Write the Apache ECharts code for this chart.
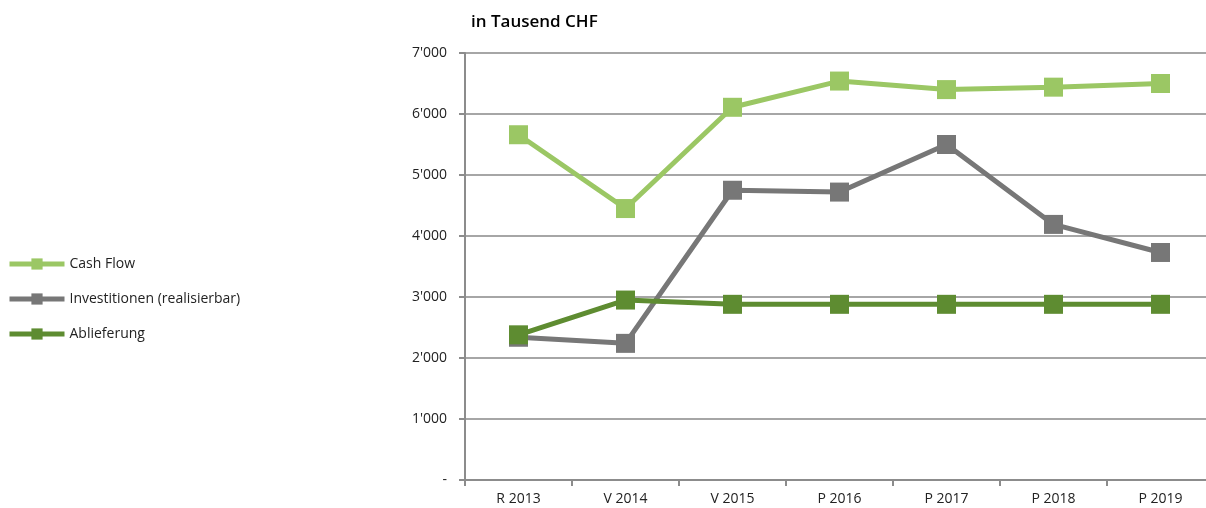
<!DOCTYPE html>
<html><head><meta charset="utf-8">
<script src="https://cdn.jsdelivr.net/npm/echarts@6/dist/echarts.min.js"></script>
<style>html,body{margin:0;padding:0;background:#fff;overflow:hidden;width:1206px;height:508px}#c{width:1214px;height:508px}</style>
</head><body><div id="c"></div>
<script>
const categories = ['R 2013','V 2014','V 2015','P 2016','P 2017','P 2018','P 2019'];
const cashFlow = [5660, 4450, 6110, 6540, 6400, 6440, 6500];
const investitionen = [2340, 2240, 4750, 4720, 5500, 4190, 3730];
const ablieferung = [2380, 2950, 2880, 2880, 2880, 2880, 2880];
const seriesNames = ['Cash Flow', 'Investitionen (realisierbar)', 'Ablieferung'];
const colors = ['#9BC764', '#777777', '#5E8C31'];
const font = '"Open Sans", "Noto Sans", sans-serif';

const chart = echarts.init(document.getElementById('c'));
function mk(name, data, color, z) {
  return {
    name, type: 'line', data, z,
    symbol: 'rect', symbolSize: 19,
    itemStyle: { color },
    lineStyle: { color, width: 5 },
    emphasis: { disabled: true },
    animation: false
  };
}
chart.setOption({
  animation: false,
  title: { text: 'in Tausend CHF', left: 466, top: 9,
    textStyle: { fontFamily: font, fontSize: 17, fontWeight: 600, color: '#000' } },
  legend: {
    orient: 'vertical', left: 2, top: 252, itemWidth: 55, itemHeight: 14, itemGap: 21,
    lineStyle: { width: 5 },
    textStyle: { fontFamily: font, fontSize: 14, color: '#222' },
    data: seriesNames
  },
  grid: { left: 465, right: 0, top: 53, bottom: 28 },
  xAxis: {
    type: 'category', data: categories, boundaryGap: true,
    axisLine: { lineStyle: { color: '#8c8c8c', width: 2 } },
    axisTick: { show: true, length: 6, lineStyle: { color: '#8c8c8c', width: 2 } },
    axisLabel: { fontFamily: font, fontSize: 14, color: '#222', margin: 12 }
  },
  yAxis: {
    type: 'value', min: 0, max: 7000, interval: 1000,
    axisLine: { show: true, lineStyle: { color: '#8c8c8c', width: 2 } },
    axisTick: { show: true, length: 6, inside: false, lineStyle: { color: '#8c8c8c', width: 2 } },
    splitLine: { lineStyle: { color: '#a6a6a6', width: 2 } },
    axisLabel: { fontFamily: font, fontSize: 14, color: '#222', margin: 18,
      formatter: v => v === 0 ? '-' : (Math.floor(v/1000) + "'" + String(v%1000).padStart(3,'0')) }
  },
  series: [
    mk(seriesNames[0], cashFlow, colors[0], 2),
    mk(seriesNames[1], investitionen, colors[1], 3),
    mk(seriesNames[2], ablieferung, colors[2], 4)
  ]
});
</script></body></html>
